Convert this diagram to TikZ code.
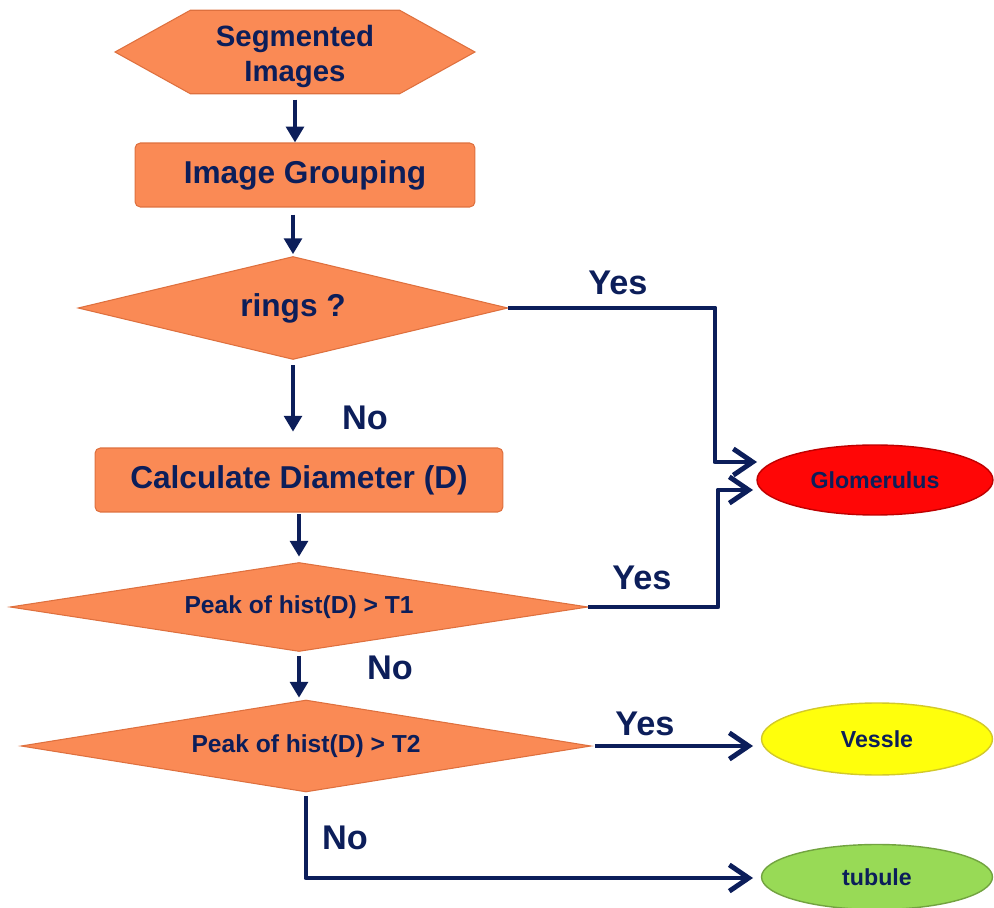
\documentclass[tikz,border=0pt]{standalone}
\usepackage{fontspec}
\setmainfont{Liberation Sans}
\usepackage{tikz}
\usetikzlibrary{calc}
\usetikzlibrary{shapes.geometric,shapes.symbols,positioning}
\usetikzlibrary{arrows.meta}
\definecolor{navy}{RGB}{12,30,90}
\definecolor{boxorange}{RGB}{250,138,85}
\definecolor{boxedge}{RGB}{222,112,62}
\definecolor{glomred}{RGB}{255,6,6}
\definecolor{vessyellow}{RGB}{255,255,12}
\definecolor{tubgreen}{RGB}{152,218,86}
\tikzset{
    % kurze senkrechte Pfeile
    downarrow/.style={
        line width=2.8pt,
        navy,
        -{Triangle[length=9pt, width=10pt]}
    },
    % Pfeile zu den Ergebnissen
    outarrow/.style={
        line width=2.8pt,
        navy,
        line join=round,
        -{Straight Barb[length=11pt, width=15pt]}
    },
    procbox/.style={
        rectangle, rounded corners=3pt,
        fill=boxorange, draw=boxedge, line width=0.6pt,
        minimum height=1.28cm, text=navy,
        font=\bfseries\fontsize{18}{21.6}\selectfont
    },
    decbox/.style={
        diamond,
        fill=boxorange, draw=boxedge, line width=0.6pt,
        text=navy, inner sep=1pt
    },
    outoval/.style={
        ellipse, line width=0.8pt, text=navy,
        font=\bfseries\fontsize{13.2}{15}\selectfont
    },
    answer/.style={
        text=navy, inner sep=0pt,
        font=\bfseries\fontsize{19.5}{22}\selectfont
    }
}

\begin{document}
\begin{tikzpicture}[x=0.02cm, y=-0.02cm]
	\useasboundingbox (0,0) rectangle (994,908);
	
	% Ablauf
	\node[signal, signal to=west and east, signal pointer angle=58,
	      fill=boxorange, draw=boxedge, line width=0.6pt,
	      minimum width=7.2cm, minimum height=1.62cm, text=navy, align=center,
	      font=\bfseries\fontsize{16.7}{19.8}\selectfont] (seg) at (295,52) {\rule{0pt}{17.5pt}Segmented\\Images};
	\node[procbox, minimum width=6.8cm] (group) at (305,175) {Image Grouping};
	\node[decbox, aspect=4.2, minimum width=8.6cm, minimum height=2.06cm,
	      font=\bfseries\fontsize{18}{21.6}\selectfont] (rings) at (293,308) {rings ?};
	\node[procbox, minimum width=8.16cm] (calc) at (299,480) {Calculate Diameter (D)};
	\node[decbox, aspect=6.5, minimum width=11.56cm, minimum height=1.78cm,
	      font=\bfseries\fontsize{14}{16}\selectfont] (peak1) at (299,607) {Peak of hist(D) > T1};
	\node[decbox, aspect=6.2, minimum width=11.4cm, minimum height=1.84cm,
	      font=\bfseries\fontsize{14}{16}\selectfont] (peak2) at (306,746) {Peak of hist(D) > T2};
	
	% Ergebnisse
	\node[outoval, fill=glomred, draw=red!75!black, minimum width=4.72cm, minimum height=1.4cm] (glom) at (875,480) {Glomerulus};
	\node[outoval, fill=vessyellow, draw=yellow!80!black, minimum width=4.62cm, minimum height=1.44cm] (vess) at (877,739) {Vessle};
	\node[outoval, fill=tubgreen, draw=tubgreen!75!black, minimum width=4.62cm, minimum height=1.3cm] (tub) at (877,877) {tubule};
	
	\path
	(715,462) coordinate (k1)
	(757,462) coordinate (g1)
	(718,490) coordinate (k2)
	(753,490) coordinate (g2)
	(753,746) coordinate (v1)
	(753,878) coordinate (t1);
	
	% senkrechte Pfeile
	\draw[downarrow, shorten <=3pt] (seg.south) -- (seg.south |- group.north);
	\draw[downarrow, shorten <=4pt, shorten >=1pt] (group.south -| rings.north) -- (rings.north);
	\draw[downarrow, shorten <=3pt, shorten >=9pt] (rings.south) -- (rings.south |- calc.north);
	\draw[downarrow, shorten <=1pt, shorten >=3pt] (calc.south) -- (peak1.north);
	\draw[downarrow, shorten <=2pt, shorten >=1pt] (peak1.south) -- (peak1.south |- peak2.north);
	
	% Ja / Nein
	\draw[outarrow] (rings.east) -| (k1) -- (g1);
	\draw[outarrow] (peak1.east) -| (k2) -- (g2);
	\draw[outarrow] ([xshift=2pt]peak2.east) -- (v1);
	\draw[outarrow] ([yshift=-2pt]peak2.south) |- (t1);
	
	% Beschriftung
	\node[answer] (yes1) at (618,283) {Yes};
	\node[answer] (no1) at (365,418) {No};
	\node[answer] (yes2) at (642,578) {Yes};
	\node[answer] (no2) at (390,668) {No};
	\node[answer] (yes3) at (645,724) {Yes};
	\node[answer] (no3) at (345,838) {No};
\end{tikzpicture}
\end{document}
